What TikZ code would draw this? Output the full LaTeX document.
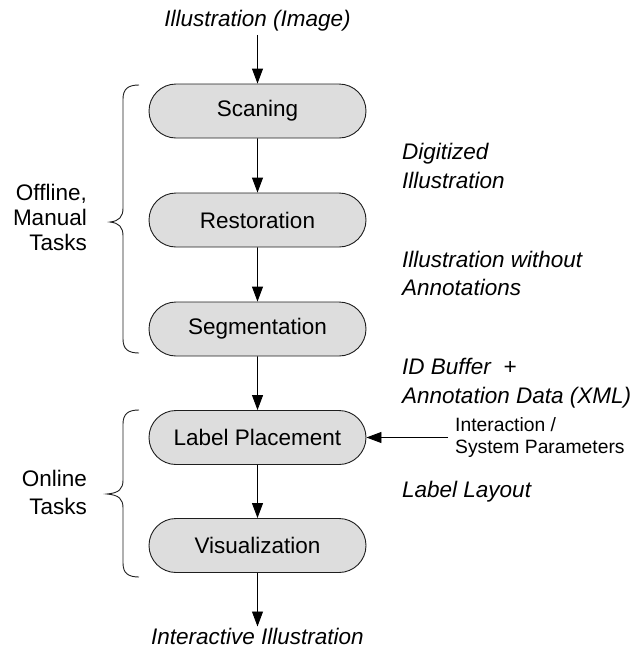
\documentclass[tikz,border=0pt]{standalone}
\usepackage{fontspec}
\setmainfont{Liberation Sans}
\usetikzlibrary{shapes.misc,arrows.meta}
\definecolor{boxfill}{RGB}{221,221,221}
\definecolor{edge}{RGB}{30,30,30}
\begin{document}
\begin{tikzpicture}[x=1pt,y=-1pt,
  stage/.style={rounded rectangle, draw=edge, line width=0.9pt, fill=boxfill,
    minimum width=217pt, minimum height=54pt, inner sep=0pt,
    font=\fontsize{22.5}{27}\selectfont},
  flow/.style={draw=black, line width=0.9pt, -{Triangle[length=15pt,width=11pt]}},
  note/.style={font=\fontsize{22.5}{28.5}\selectfont\itshape, align=left, anchor=west, inner sep=0pt},
  group/.style={font=\fontsize{22.5}{25}\selectfont, align=right, anchor=east, inner sep=0pt},
  bracepath/.style={draw=edge, line width=0.9pt}
]
\useasboundingbox (0,0) rectangle (644,649);

\node[stage] (scan) at (257.5,111) {Scaning};
\node[stage] (rest) at (257.5,220) {Restoration};
\node[stage] (seg)  at (257.5,329) {Segmentation};
\node[stage] (place) at (257.5,437.5) {Label Placement};
\node[stage] (vis) at (257.5,545.5) {Visualization};

\node[font=\fontsize{22.5}{27}\selectfont\itshape, anchor=base, inner sep=4pt] (in) at (257.5,26) {Illustration (Image)};
\node[font=\fontsize{22.5}{27}\selectfont\itshape, anchor=base, inner sep=1pt] (out) at (257.5,644) {Interactive Illustration};

\draw[flow] (in.south) -- (scan.north);
\draw[flow] (scan) -- (rest);
\draw[flow] (rest) -- (seg);
\draw[flow] (seg) -- (place);
\draw[flow] (place) -- (vis);
\draw[flow] (vis.south) -- (out.north);

\node[note] (d1) at (402,166) {Digitized\\Illustration};
\node[note] (d2) at (402,273.5) {Illustration without\\Annotations};
\node[note] (d3) at (402,383) {ID Buffer\ \ +\\Annotation Data (XML)};
\node[note] (d4) at (402,492) {Label Layout};
\node[font=\fontsize{19.3}{22}\selectfont, align=left, anchor=west, inner sep=0pt] (ip) at (455,437.5) {Interaction /\\System Parameters};
\coordinate (ipend) at (448,437.5);
\draw[flow] (ipend) -- (place.east);

\node[group] (off) at (87,217) {Offline,\\Manual\\Tasks};
\node[font=\fontsize{22.5}{28}\selectfont, align=right, anchor=east, inner sep=0pt] (on) at (87,492) {Online\\Tasks};

\draw[bracepath] (139,85) .. controls (128,85) and (123,89) .. (123,99)
  -- (123,208) .. controls (123,217) and (119,221) .. (110,222)
  .. controls (119,223) and (123,227) .. (123,236)
  -- (123,339) .. controls (123,349) and (128,353) .. (139,353);
\draw[bracepath] (139,410) .. controls (128,410) and (123,414) .. (123,424)
  -- (123,480) .. controls (123,489) and (119,493) .. (107,494)
  .. controls (119,495) and (123,499) .. (123,508)
  -- (123,563) .. controls (123,573) and (128,577) .. (139,577);
\end{tikzpicture}
\end{document}
